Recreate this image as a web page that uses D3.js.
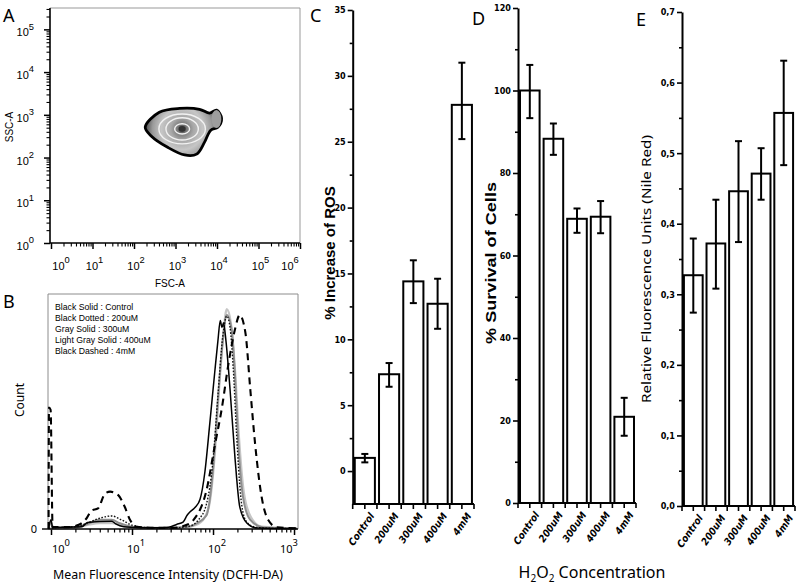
<!DOCTYPE html>
<html>
<head>
<meta charset="utf-8">
<script src="https://cdn.jsdelivr.net/npm/d3@7"></script>
<style>
  body { margin: 0; background: #fff; }
  svg { display: block; }
  text { font-family: Arial, "Liberation Sans", sans-serif; fill: #000; }
  .lbl { font-family: "Noto Sans", "Open Sans", sans-serif; }
  .num { font-family: "Liberation Sans Narrow", "DejaVu Sans Condensed", Arial, sans-serif; font-weight: bold; }
  .ttl { font-family: Arial, "Liberation Sans", sans-serif; font-weight: bold; }
</style>
</head>
<body>
<svg id="fig" width="799" height="585"></svg>
<script>
// ---- bar charts C, D, E ----
const doses = ["Control", "200uM", "300uM", "400uM", "4mM"];
const rosMean = [1.0, 7.35, 14.4, 12.7, 27.8];
const rosLow  = [0.66, 6.4, 12.75, 10.8, 25.2];
const rosHigh = [1.3, 8.2, 16.0, 14.6, 31.0];
const survMean = [100, 88.3, 68.9, 69.4, 20.9];
const survLow  = [93.3, 84.4, 65.5, 65.4, 16.3];
const survHigh = [106.2, 92.0, 71.4, 73.2, 25.5];
const nileMean = [0.327, 0.372, 0.446, 0.471, 0.557];
const nileLow  = [0.274, 0.308, 0.374, 0.434, 0.483];
const nileHigh = [0.379, 0.434, 0.517, 0.507, 0.631];

// ---- panel A: FSC/SSC gate, log10 units ----
const gateOutline = [[2.27,2.71],[2.61,3.06],[3.10,3.15],[3.58,3.13],[3.82,3.04],[3.99,3.11],[4.11,2.92],
  [4.02,2.71],[3.85,2.64],[3.70,2.36],[3.51,2.08],[3.22,2.06],[2.81,2.24],[2.42,2.50]];
const gateCenter = [3.16, 2.67];
const gateLobe = [3.985, 2.90, 0.12, 0.21];
const ringRx = [0.56, 0.39, 0.18];
const ringRy = [0.35, 0.26, 0.12];

// ---- panel B: histograms, [log10 MFI, count] ----
const histControl = [[-0.03,0.4],[0.0,4],[0.02,0.6],[0.2,0.8],[0.38,1.0],[0.45,2.8],[0.6,3.3],[0.75,3.4],[0.8,2.2],
  [0.9,1.0],[1.1,0.6],[1.3,0.5],[1.45,0.8],[1.55,2.0],[1.63,3.0],[1.68,6.0],[1.72,7.6],[1.78,9.5],[1.84,13],[1.9,25],
  [1.96,46],[2.02,68],[2.06,82],[2.09,91],[2.11,88],[2.13,90],[2.16,82],[2.21,61],[2.27,31.6],[2.33,9.7],[2.42,2.5],
  [2.54,0.4],[2.8,0.2],[3.03,0.2]];
const hist200 = [[-0.03,0.3],[0.02,0.5],[0.3,1.0],[0.44,2.5],[0.6,4.7],[0.75,5.7],[0.87,4],[1.0,1.7],[1.2,0.6],
  [1.5,0.5],[1.7,1.2],[1.82,4],[1.92,11],[2.0,30],[2.06,58],[2.12,84],[2.17,93],[2.21,88],[2.25,70],[2.29,42],
  [2.34,15],[2.4,4],[2.5,1],[2.7,0.3],[3.03,0.2]];
const hist300 = [[-0.03,0.3],[0.0,3],[0.02,0.5],[0.3,0.8],[0.45,2.2],[0.6,4],[0.75,4],[0.85,2.5],[1.0,1],[1.2,0.5],
  [1.5,0.4],[1.7,1],[1.8,2.5],[1.92,6],[2.0,26],[2.07,61],[2.12,82],[2.17,93.4],[2.23,87],[2.27,68],[2.31,39],
  [2.37,14],[2.46,4],[2.62,0.7],[3.03,0.2]];
const hist400 = [[-0.03,0.2],[0.3,0.6],[0.45,1.8],[0.6,2.6],[0.75,2.6],[0.85,1.8],[1.0,0.7],[1.3,0.4],[1.7,1],
  [1.85,3],[1.95,10],[2.02,32],[2.08,64],[2.13,86],[2.17,96],[2.22,90],[2.27,70],[2.32,40],[2.38,16],[2.47,5],
  [2.6,1],[3.03,0.2]];
const hist4mM = [[-0.03,0],[-0.025,53],[-0.005,52],[0.02,1],[0.2,0.8],[0.35,2],[0.44,4.7],[0.5,8],[0.58,9],
  [0.67,15.6],[0.73,16.3],[0.83,14.8],[0.91,9.7],[0.975,4],[1.06,1],[1.3,0.5],[1.5,0.5],[1.65,1.5],[1.76,4],
  [1.92,17],[2.02,36],[2.11,53],[2.19,72],[2.27,87],[2.33,93.4],[2.40,85.6],[2.46,61],[2.52,37],[2.60,14],
  [2.68,4],[2.79,0.7],[3.03,0.3]];
const legendLines = ["Black Solid : Control", "Black Dotted : 200uM", "Gray Solid : 300uM",
  "Light Gray Solid : 400uM", "Black Dashed : 4mM"];

const svg = d3.select("#fig");
svg.append("rect").attr("width", 799).attr("height", 585).attr("fill", "#fff");

// "10" with a superscript exponent
function powLabel(g, x, y, exp, size, anchor) {
  const t = g.append("text").attr("x", x).attr("y", y).attr("font-size", size).attr("text-anchor", anchor || "middle");
  t.append("tspan").text("10");
  t.append("tspan").attr("dy", -size * 0.6).attr("font-size", size * 0.85).text(exp);
  return t;
}
function logMinors(n0, n1, maxV) {
  const out = [];
  for (let n = n0; n <= n1; n++) for (let k = 2; k <= 9; k++) {
    const v = k * Math.pow(10, n);
    if (v <= maxV) out.push(v);
  }
  return out;
}
function styleAxis(g, w) {
  g.select(".domain").remove();
  g.selectAll(".tick line").attr("stroke", "#000").attr("stroke-width", w);
}

// ================= Panel A =================
(function () {
  const x = d3.scaleLog().domain([1, 1e6]).range([51, 300]);
  const y = d3.scaleLog().domain([1, Math.pow(10, 5.5)]).range([243, 8]);
  const g = svg.append("g");
  g.append("path").attr("d", "M50,8H300V243").attr("fill", "none").attr("stroke", "#999").attr("stroke-width", 1);

  const defs = svg.append("defs");
  const cx = x(Math.pow(10, gateCenter[0])), cy = y(Math.pow(10, gateCenter[1]));
  const grad = defs.append("radialGradient").attr("id", "gateFill").attr("gradientUnits", "userSpaceOnUse")
    .attr("cx", cx).attr("cy", cy).attr("r", 38);
  [[0, "#2a2a2a"], [0.12, "#777"], [0.3, "#a8a8a8"], [0.55, "#c6c6c6"], [0.78, "#9a9a9a"], [1, "#404040"]]
    .forEach(s => grad.append("stop").attr("offset", s[0]).attr("stop-color", s[1]));

  const line = d3.line()
    .x(d => x(Math.pow(10, d[0]))).y(d => y(Math.pow(10, d[1])))
    .curve(d3.curveCatmullRomClosed.alpha(0.5));
  g.append("path").attr("d", line(gateOutline)).attr("fill", "url(#gateFill)")
    .attr("stroke", "#000").attr("stroke-width", 2.8);
  const lx = x(Math.pow(10, gateLobe[0])), ly = y(Math.pow(10, gateLobe[1]));
  g.append("ellipse").attr("cx", lx).attr("cy", ly)
    .attr("rx", x(Math.pow(10, gateLobe[0] + gateLobe[2])) - lx)
    .attr("ry", ly - y(Math.pow(10, gateLobe[1] + gateLobe[3])))
    .attr("fill", "#9d9d9d");
  g.selectAll("ellipse.ring").data(ringRx).join("ellipse").attr("class", "ring")
    .attr("cx", cx).attr("cy", cy)
    .attr("rx", d => x(Math.pow(10, gateCenter[0] + d)) - cx)
    .attr("ry", (d, i) => cy - y(Math.pow(10, gateCenter[1] + ringRy[i])))
    .attr("fill", "none").attr("stroke", "#f2f2f2").attr("stroke-width", 1.4);
  g.append("ellipse").attr("cx", cx).attr("cy", cy).attr("rx", 3.5).attr("ry", 2.8).attr("fill", "#333");

  // axes
  const majX = d3.range(0, 7).map(n => Math.pow(10, n));
  const majY = d3.range(0, 6).map(n => Math.pow(10, n));
  g.append("g").attr("transform", "translate(0,243)")
    .call(d3.axisBottom(x).tickValues(majX).tickSize(6).tickFormat("")).call(a => styleAxis(a, 1.5));
  g.append("g").attr("transform", "translate(0,243)")
    .call(d3.axisBottom(x).tickValues(logMinors(0, 5, 1e6)).tickSize(3.5).tickFormat("")).call(a => styleAxis(a, 1.1));
  g.append("g").attr("transform", "translate(50,0)")
    .call(d3.axisLeft(y).tickValues(majY).tickSize(6).tickFormat("")).call(a => styleAxis(a, 1.5));
  g.append("g").attr("transform", "translate(50,0)")
    .call(d3.axisLeft(y).tickValues(logMinors(0, 5, Math.pow(10, 5.5))).tickSize(3.5).tickFormat("")).call(a => styleAxis(a, 1.1));
  g.append("line").attr("x1", 50).attr("x2", 300).attr("y1", 243).attr("y2", 243).attr("stroke", "#000").attr("stroke-width", 1.6);
  g.append("line").attr("x1", 50).attr("x2", 50).attr("y1", 8).attr("y2", 243).attr("stroke", "#000").attr("stroke-width", 1.6);

  majY.forEach((v, i) => powLabel(g, 34, y(v) + 7, i, 11, "end"));
  majX.forEach((v, i) => powLabel(g, Math.max(61, Math.min(290, x(v) + 2)), 270, i, 11, "middle"));
  g.append("text").attr("transform", "translate(13,127) rotate(-90)").attr("text-anchor", "middle")
    .attr("font-size", 10).text("SSC-A");
  g.append("text").attr("x", 170).attr("y", 287).attr("text-anchor", "middle").attr("font-size", 10).text("FSC-A");
})();

// ================= Panel B =================
(function () {
  const x = d3.scaleLog().domain([Math.pow(10, -0.037), Math.pow(10, 3.049)]).range([48, 298]);
  const y = d3.scaleLinear().domain([0, 102.6]).range([529, 294]);
  const g = svg.append("g");
  g.append("path").attr("d", "M48,529V294H298V529").attr("fill", "none").attr("stroke", "#8c8c8c").attr("stroke-width", 1);

  g.append("g").attr("transform", "translate(0,529)")
    .call(d3.axisBottom(x).tickValues([1, 10, 100, 1000]).tickSize(6).tickFormat("")).call(a => styleAxis(a, 1.5));
  g.append("g").attr("transform", "translate(0,529)")
    .call(d3.axisBottom(x).tickValues(logMinors(0, 2, 1000)).tickSize(3.5).tickFormat("")).call(a => styleAxis(a, 1.2));

  const series = [
    { pts: hist400, stroke: "#c6c6c6", w: 2.3, dash: null },
    { pts: hist300, stroke: "#8e8e8e", w: 2, dash: null },
    { pts: hist200, stroke: "#111", w: 1.4, dash: "1.6,1.6" },
    { pts: histControl, stroke: "#000", w: 1.5, dash: null },
    { pts: hist4mM, stroke: "#000", w: 2.1, dash: "7,5" }
  ];
  const line = d3.line().x(d => x(Math.pow(10, d[0]))).y(d => y(d[1])).curve(d3.curveMonotoneX);
  g.selectAll("path.hist").data(series).join("path").attr("class", "hist")
    .attr("d", d => line(d.pts)).attr("fill", "none")
    .attr("stroke", d => d.stroke).attr("stroke-width", d => d.w)
    .attr("stroke-dasharray", d => d.dash).attr("stroke-linejoin", "round");

  g.append("line").attr("x1", 48).attr("x2", 298).attr("y1", 529).attr("y2", 529).attr("stroke", "#000").attr("stroke-width", 1.6);
  g.append("line").attr("x1", 42).attr("x2", 48).attr("y1", 529).attr("y2", 529).attr("stroke", "#000").attr("stroke-width", 1.4);
  g.append("text").attr("class", "lbl").attr("x", 37).attr("y", 533).attr("text-anchor", "end").attr("font-size", 11).text("0");

  [1, 10, 100, 1000].forEach((v, i) => {
    powLabel(g, Math.max(61, Math.min(289, x(v) + 4)), 553, i, 11, "middle").attr("class", "lbl").attr("fill", "#222");
  });
  g.selectAll("text.leg").data(legendLines).join("text").attr("class", "leg")
    .attr("x", 55).attr("y", (d, i) => 309.5 + i * 11).attr("font-size", 8.7).attr("fill", "#333").text(d => d);
  g.append("text").attr("class", "lbl").attr("transform", "translate(24,400) rotate(-90)")
    .attr("text-anchor", "middle").attr("font-size", 12).text("Count");
  g.append("text").attr("class", "lbl").attr("x", 168).attr("y", 579).attr("text-anchor", "middle")
    .attr("font-size", 12.5).attr("textLength", 230).attr("lengthAdjust", "spacingAndGlyphs")
    .text("Mean Fluorescence Intensity (DCFH-DA)");
})();

// ================= Panels C, D, E =================
function barPanel(o) {
  const x = d3.scaleBand().domain(doses).range([o.x0, o.x1]).paddingInner(0.17).paddingOuter(0.085);
  const y = d3.scaleLinear().domain(o.domain).range([o.yBot, o.yTop]);
  const g = svg.append("g");
  const bw = x.bandwidth(), gap = x.step() - bw;

  g.selectAll("rect.bar").data(doses).join("rect").attr("class", "bar")
    .attr("x", d => x(d)).attr("width", bw)
    .attr("y", (d, i) => y(o.mean[i])).attr("height", (d, i) => o.yBot - y(o.mean[i]))
    .attr("fill", "#fff").attr("stroke", "#000").attr("stroke-width", 2);

  const eg = g.selectAll("g.err").data(doses).join("g").attr("class", "err")
    .attr("transform", d => `translate(${x(d) + bw / 2},0)`);
  eg.append("line").attr("y1", (d, i) => y(o.lo[i])).attr("y2", (d, i) => y(o.hi[i]))
    .attr("stroke", "#000").attr("stroke-width", 2);
  eg.append("line").attr("x1", -3.5).attr("x2", 3.5).attr("y1", (d, i) => y(o.hi[i])).attr("y2", (d, i) => y(o.hi[i]))
    .attr("stroke", "#000").attr("stroke-width", 2);
  eg.append("line").attr("x1", -3.5).attr("x2", 3.5).attr("y1", (d, i) => y(o.lo[i])).attr("y2", (d, i) => y(o.lo[i]))
    .attr("stroke", "#000").attr("stroke-width", 2);

  // y axis
  const ya = g.append("g").attr("transform", `translate(${o.x0},0)`)
    .call(d3.axisLeft(y).tickValues(o.majors).tickSize(5).tickSizeOuter(0).tickFormat(o.fmt));
  ya.select(".domain").attr("stroke", "#000").attr("stroke-width", 2);
  ya.selectAll(".tick line").attr("stroke-width", 1.6);
  ya.selectAll(".tick text").attr("class", "num").attr("font-size", 9).attr("x", -7).attr("fill", "#000");
  g.append("g").attr("transform", `translate(${o.x0},0)`)
    .call(d3.axisLeft(y).tickValues(o.minors).tickSize(3).tickFormat("")).call(a => styleAxis(a, 1.6));

  // x axis with ticks at slot edges and centers
  g.append("line").attr("x1", o.x0).attr("x2", o.x1).attr("y1", o.yBot).attr("y2", o.yBot)
    .attr("stroke", "#000").attr("stroke-width", 2);
  const tx = [];
  doses.forEach(d => { tx.push(x(d) - gap / 2); tx.push(x(d) + bw / 2); });
  tx.push(o.x1);
  g.selectAll("line.xt").data(tx).join("line").attr("class", "xt")
    .attr("x1", d => d).attr("x2", d => d).attr("y1", o.yBot).attr("y2", o.yBot + 5)
    .attr("stroke", "#000").attr("stroke-width", 1.6);
  g.selectAll("text.xl").data(doses).join("text").attr("class", "xl num")
    .attr("transform", d => `translate(${x(d) + bw / 2 + 10},${o.yBot + 12}) rotate(-55)`)
    .attr("text-anchor", "end").attr("font-size", 10).attr("font-style", "italic").text(d => d);
  return g;
}

const cPanel = barPanel({
  x0: 352.7, x1: 474, yTop: 10, yBot: 504, domain: [-2.5, 35],
  majors: [0, 5, 10, 15, 20, 25, 30, 35], minors: [2.5, 7.5, 12.5, 17.5, 22.5, 27.5, 32.5],
  fmt: d3.format("d"), mean: rosMean, lo: rosLow, hi: rosHigh
});
cPanel.append("text").attr("class", "ttl").attr("transform", "translate(335,253) rotate(-90)")
  .attr("text-anchor", "middle").attr("font-size", 15).text("% Increase of ROS");

const dPanel = barPanel({
  x0: 518, x1: 636, yTop: 8, yBot: 503, domain: [0, 120],
  majors: [0, 20, 40, 60, 80, 100, 120], minors: [10, 30, 50, 70, 90, 110],
  fmt: d3.format("d"), mean: survMean, lo: survLow, hi: survHigh
});
dPanel.append("text").attr("class", "ttl").attr("transform", "translate(496,263) rotate(-90)")
  .attr("text-anchor", "middle").attr("font-size", 15).attr("textLength", 162).attr("lengthAdjust", "spacingAndGlyphs")
  .text("% Survival of Cells");

const commaFmt = d3.formatLocale({ decimal: ",", thousands: ".", grouping: [3], currency: ["", ""] }).format(".1f");
const ePanel = barPanel({
  x0: 682, x1: 795, yTop: 12, yBot: 506, domain: [0, 0.7],
  majors: [0, 0.1, 0.2, 0.3, 0.4, 0.5, 0.6, 0.7], minors: [0.05, 0.15, 0.25, 0.35, 0.45, 0.55, 0.65],
  fmt: commaFmt, mean: nileMean, lo: nileLow, hi: nileHigh
});
ePanel.append("text").attr("class", "lbl").attr("transform", "translate(651,269) rotate(-90)")
  .attr("text-anchor", "middle").attr("font-size", 13).attr("textLength", 268).attr("lengthAdjust", "spacingAndGlyphs")
  .text("Relative Fluorescence Units (Nile Red)");

// shared x title
const xt = svg.append("text").attr("class", "lbl").attr("x", 592).attr("y", 578).attr("text-anchor", "middle").attr("font-size", 16);
xt.append("tspan").text("H");
xt.append("tspan").attr("font-size", 10).attr("dy", 4).text("2");
xt.append("tspan").attr("dy", -4).text("O");
xt.append("tspan").attr("font-size", 10).attr("dy", 4).text("2");
xt.append("tspan").attr("dy", -4).text(" Concentration");

// panel letters
[["A", 3, 22], ["B", 3, 308], ["C", 310, 22], ["D", 472, 25], ["E", 636, 26]].forEach(p => {
  svg.append("text").attr("class", "lbl").attr("x", p[1]).attr("y", p[2]).attr("font-size", 18).text(p[0]);
});
</script>
</body>
</html>
